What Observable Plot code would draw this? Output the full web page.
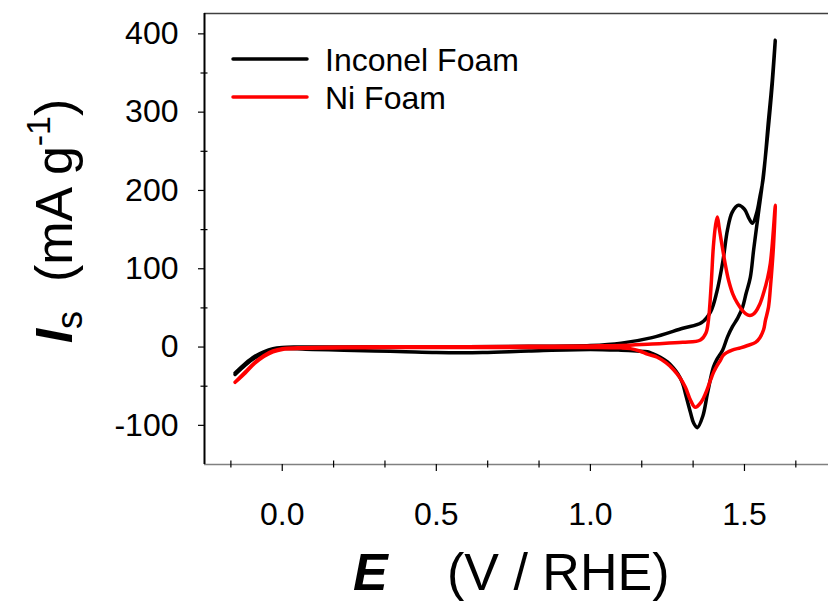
<!DOCTYPE html>
<html>
<head>
<meta charset="utf-8">
<script src="https://cdn.jsdelivr.net/npm/d3@7"></script>
<script src="https://cdn.jsdelivr.net/npm/@observablehq/plot@0.6"></script>
<style>
  html, body { margin: 0; padding: 0; background: #fff; }
  #chart { width: 828px; height: 602px; }
</style>
</head>
<body>
<div id="chart"></div>
<script>
// Series names
const seriesNames = ["Inconel Foam", "Ni Foam"];
const seriesColors = ["#000000", "#ff0000"];

// Inconel Foam: forward scan then reverse scan (E in V vs RHE, Is in mA/g)
const inconelE = [-0.153,-0.12,-0.09,-0.06,-0.03,0.0,0.05,0.2,0.4,0.6,0.8,1.0,1.1,1.2,1.3,1.36,1.39,1.41,1.43,1.445,1.46,1.48,1.50,1.515,1.526,1.54,1.55,1.56,1.578,1.59,1.6,
  1.59,1.575,1.56,1.545,1.53,1.519,1.505,1.494,1.478,1.461,1.445,1.429,1.41,1.399,1.38,1.365,1.347,1.335,1.325,1.31,1.299,1.285,1.27,1.25,1.227,1.2,1.185,1.15,1.1,1.0,0.8,0.65,0.5,0.4,0.3,0.2,0.1,0.0,-0.03,-0.06,-0.09,-0.12,-0.153];
const inconelI = [-33,-21,-12,-6,-2,-0.5,0,0,0.5,0.5,1,2,5,12,24,31,45,70,110,150,172,181,176,164,158,172,192,213,290,340,392,
  335,270,215,170,125,89,68,51,37,26,13,-4,-16,-26,-59,-88,-103,-97,-84,-62,-46,-35,-27,-19,-13,-8,-6,-5,-4,-3,-5,-7,-7,-6,-5,-4,-3,-2,-4,-8,-14,-23,-35];

// Ni Foam: forward scan then reverse scan
const niE = [-0.153,-0.12,-0.09,-0.06,-0.03,0.0,0.05,0.2,0.4,0.6,0.8,1.0,1.1,1.2,1.3,1.357,1.375,1.383,1.392,1.399,1.406,1.412,1.418,1.428,1.438,1.448,1.462,1.477,1.495,1.51,1.525,1.536,1.55,1.562,1.575,1.584,1.592,1.6,
  1.594,1.585,1.578,1.568,1.562,1.55,1.536,1.51,1.487,1.46,1.432,1.422,1.412,1.40,1.39,1.375,1.36,1.34,1.325,1.308,1.29,1.27,1.245,1.217,1.185,1.16,1.13,1.1,1.0,0.8,0.6,0.4,0.2,0.0,-0.03,-0.06,-0.09,-0.12,-0.153];
const niI = [-45,-32,-20,-11,-5,-2,-1,0,0.5,0.5,1,1.5,2,4,6,9,18,34,80,128,155,166,152,128,105,86,68,56,46,41,41,45,55,69,88,107,140,181,
  128,80,51,34,22,12,6,2,-1,-4,-10,-17,-23,-32,-42,-58,-70,-77,-68,-51,-39,-29,-20,-13,-9,-5,-2,-1,-0.5,-0.5,-0.5,-0.5,-1,-3,-6,-12,-21,-33,-45];

// Axis settings
const xDomain = [-0.2523, 1.7727];
const yDomain = [-150, 426];
const xMajorTicks = [0.0, 0.5, 1.0, 1.5];
const xMinorTicks = [-1/6, 1/6, 2/6, 4/6, 5/6, 7/6, 8/6, 10/6];
const yMajorTicks = [-100, 0, 100, 200, 300, 400];
const yMinorTicks = [-50, 50, 150, 250, 350];

const data = [
  ...inconelE.map((e, i) => ({E: e, I: inconelI[i], series: seriesNames[0]})),
  ...niE.map((e, i) => ({E: e, I: niI[i], series: seriesNames[1]}))
];

const font = "'Liberation Sans', Arial, sans-serif";

const plot = Plot.plot({
  width: 828,
  height: 602,
  marginLeft: 204,
  marginRight: 0,
  marginTop: 13,
  marginBottom: 138,
  style: {fontFamily: font, fontSize: "32px", background: "#fff", color: "#000"},
  x: {domain: xDomain, axis: null},
  y: {domain: yDomain, axis: null},
  color: {domain: seriesNames, range: seriesColors},
  marks: [
    // frame lines
    Plot.ruleY([yDomain[1]], {stroke: "#404040", strokeWidth: 1.5}),
    Plot.ruleY([yDomain[0]], {stroke: "#808080", strokeWidth: 1.5}),
    Plot.ruleX([xDomain[0]], {stroke: "#000", strokeWidth: 2}),
    // y axis
    Plot.axisY({ticks: yMajorTicks, tickSize: 6, tickPadding: 20, fontSize: 32, label: null, tickFormat: d => String(d), stroke: "#000", strokeWidth: 1.2}),
    Plot.axisY({ticks: yMinorTicks, tickSize: 7, dx: 3.5, label: null, tickFormat: () => "", stroke: "#000", strokeWidth: 1.2}),
    // x axis
    Plot.axisX({ticks: xMajorTicks, tickSize: 7, tickPadding: 31, fontSize: 32, label: null, tickFormat: d3.format(".1f"), stroke: "#000", strokeWidth: 1.2}),
    Plot.axisX({ticks: xMinorTicks, tickSize: 7, dy: -3.5, label: null, tickFormat: () => "", stroke: "#000", strokeWidth: 1.2}),
    // curves
    Plot.line(data, {x: "E", y: "I", z: "series", stroke: "series", strokeWidth: 3.5, curve: "catmull-rom", strokeLinejoin: "round", strokeLinecap: "round"})
  ]
});

document.getElementById("chart").appendChild(plot);

const svg = d3.select(plot);

// Legend
const legend = svg.append("g").attr("font-family", font).attr("font-size", 32).attr("text-anchor", "start");
seriesNames.forEach((name, i) => {
  const y = 59 + i * 38;
  legend.append("line").attr("x1", 233).attr("x2", 307).attr("y1", y).attr("y2", y)
    .attr("stroke", seriesColors[i]).attr("stroke-width", 3.5).attr("stroke-linecap", "round");
  legend.append("text").attr("x", 325).attr("y", y).attr("dy", "0.36em").attr("fill", "#000").text(name);
});

// X axis label
const xl = svg.append("text").attr("font-family", font).attr("font-size", 52).attr("y", 590)
  .attr("fill", "#000").attr("text-anchor", "start");
xl.append("tspan").attr("x", 353).attr("font-weight", "bold").attr("font-style", "italic").text("E");
xl.append("tspan").attr("x", 447).text("(V / RHE)");

// Y axis label
const yl = svg.append("text").attr("font-family", font).attr("font-size", 52).attr("fill", "#000")
  .attr("text-anchor", "middle").attr("transform", "translate(72,221) rotate(-90)").attr("xml:space", "preserve");
yl.append("tspan").attr("font-weight", "bold").attr("font-style", "italic").text("I");
yl.append("tspan").attr("font-size", 36).attr("dy", 10).text("s");
yl.append("tspan").attr("dy", -10).text("  (mA g");
yl.append("tspan").attr("font-size", 34).attr("dy", -22).text("-1");
yl.append("tspan").attr("dy", 22).text(")");
</script>
</body>
</html>
